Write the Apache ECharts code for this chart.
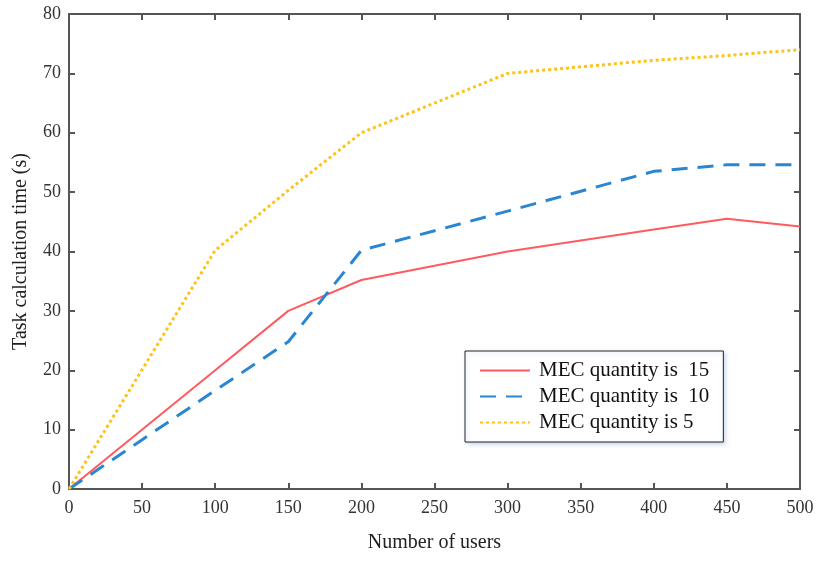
<!DOCTYPE html>
<html>
<head>
<meta charset="utf-8">
<script src="https://cdn.jsdelivr.net/npm/echarts@6/dist/echarts.min.js"></script>
<style>
  html, body { margin: 0; padding: 0; background: #fff; }
  #main { width: 817px; height: 561px; }
</style>
</head>
<body>
<div id="main"></div>
<script>
var users = [0, 100, 150, 200, 300, 400, 450, 500];
var mec15 = [0, 20, 30, 35.2, 40, 43.7, 45.5, 44.2];
var mec10 = [0, 16.6, 24.8, 40.2, 46.8, 53.5, 54.6, 54.6];
var mec5 = [0, 40.2, 50.3, 60, 70, 72.2, 73, 74];

function pairs(xs, ys) {
    return xs.map(function (x, i) { return [x, ys[i]]; });
}

var myChart = echarts.init(document.getElementById('main'));
var font = 'Liberation Serif';
var axisLine = { show: true, onZero: false, lineStyle: { color: '#555', width: 2 } };
var tick = { show: true, inside: true, length: 6, lineStyle: { color: '#555', width: 2 } };

var option = {
    backgroundColor: '#fff',
    animation: false,
    grid: { left: 69, right: 17, top: 14, bottom: 72, containLabel: false },
    legend: {
        orient: 'vertical',
        left: 465,
        top: 351,
        padding: [9, 14, 9, 14],
        itemGap: 5,
        itemWidth: 50,
        itemHeight: 17,
        borderColor: '#222',
        borderWidth: 1,
        backgroundColor: '#fff',
        shadowColor: 'rgba(60,120,200,0.25)',
        shadowBlur: 4,
        shadowOffsetX: 2,
        shadowOffsetY: 2,
        itemStyle: { opacity: 0 },
        textStyle: { fontFamily: font, fontSize: 21, color: '#111', padding: [0, 0, 0, 4] },
        data: ['MEC quantity is  15', 'MEC quantity is  10', 'MEC quantity is 5']
    },
    xAxis: [{
        type: 'value', min: 0, max: 500, interval: 50,
        name: 'Number of users', nameLocation: 'middle', nameGap: 44,
        nameTextStyle: { fontFamily: font, fontSize: 20, color: '#222' },
        axisLine: axisLine, axisTick: tick,
        axisLabel: { fontFamily: font, fontSize: 18, color: '#333', margin: 10 },
        splitLine: { show: false }
    }, {
        type: 'value', min: 0, max: 500, interval: 50, position: 'top',
        axisLine: axisLine, axisTick: tick, axisLabel: { show: false }, splitLine: { show: false }
    }],
    yAxis: [{
        type: 'value', min: 0, max: 80, interval: 10,
        name: 'Task calculation time (s)', nameLocation: 'middle', nameGap: 38,
        nameTextStyle: { fontFamily: font, fontSize: 20, color: '#222' },
        axisLine: axisLine, axisTick: tick,
        axisLabel: { fontFamily: font, fontSize: 18, color: '#333', margin: 8 },
        splitLine: { show: false }
    }, {
        type: 'value', min: 0, max: 80, interval: 10, position: 'right',
        axisLine: axisLine, axisTick: tick, axisLabel: { show: false }, splitLine: { show: false }
    }],
    series: [{
        name: 'MEC quantity is  15',
        type: 'line', symbol: 'none',
        data: pairs(users, mec15),
        itemStyle: { color: '#ff5a5f' },
        lineStyle: { color: '#ff5a5f', width: 2 }
    }, {
        name: 'MEC quantity is  10',
        type: 'line', symbol: 'none',
        data: pairs(users, mec10),
        itemStyle: { color: '#2a86d1' },
        lineStyle: { color: '#2a86d1', width: 3, type: [16, 10] }
    }, {
        name: 'MEC quantity is 5',
        type: 'line', symbol: 'none',
        data: pairs(users, mec5),
        itemStyle: { color: '#ffc21a' },
        lineStyle: { color: '#ffc21a', width: 3, type: [3, 3] }
    }]
};
myChart.setOption(option);
</script>
</body>
</html>
